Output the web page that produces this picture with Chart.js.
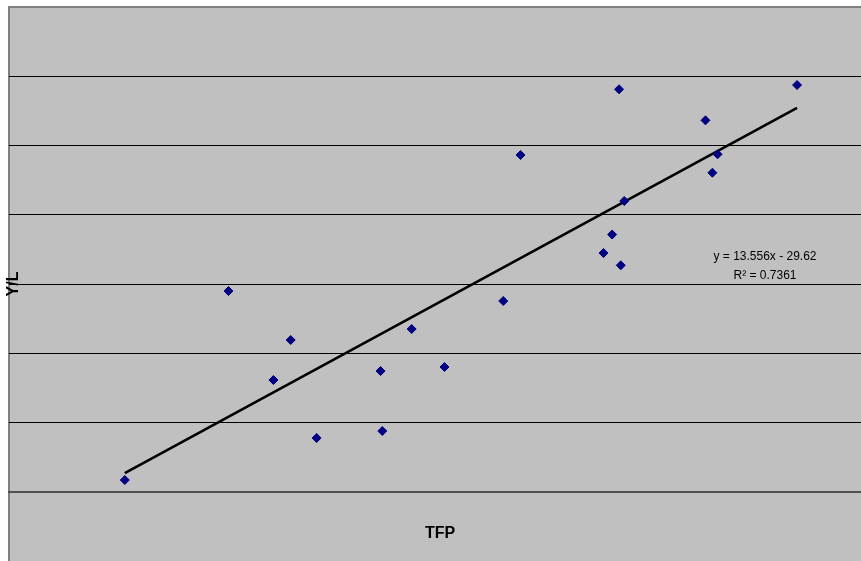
<!DOCTYPE html>
<html>
<head>
<meta charset="utf-8">
<script src="https://cdn.jsdelivr.net/npm/chart.js@4/dist/chart.umd.min.js"></script>
<style>
  body { margin: 0; background: #fff; }
  canvas { display: block; }
</style>
</head>
<body>
<canvas id="tfp-chart" width="861" height="561"></canvas>
<script>
// TFP (x) vs output per worker Y/L (y)
const tfp = [2.205, 2.265, 2.301, 2.291, 2.316, 2.353, 2.354, 2.371, 2.390, 2.424,
             2.434, 2.491, 2.494, 2.487, 2.482, 2.492, 2.541, 2.548, 2.545, 2.594]
const yl = [0.173, 2.901, 2.194, 1.616, 0.779, 1.746, 0.880, 2.352, 1.804, 2.757,
            4.864, 5.812, 4.200, 3.716, 3.449, 3.272, 5.364, 4.874, 4.608, 5.874]

// trendline as printed on the chart
const trendSlope = 13.556
const trendIntercept = -29.62
const trendLabel = ['y = 13.556x - 29.62', 'R² = 0.7361']

const xTitle = 'TFP'
const yTitle = 'Y/L'

const puntos = tfp.map((x, i) => ({ x: x, y: yl[i] }))
const xMin = Math.min(...tfp)
const xMax = Math.max(...tfp)
const tendencia = [xMin, xMax].map(x => ({ x: x, y: trendSlope * x + trendIntercept }))

const fondoPlugin = {
    id: 'fondo',
    beforeDraw: (chart) => {
        const { ctx, chartArea, width, height } = chart
        ctx.save()
        ctx.fillStyle = '#c0c0c0'
        ctx.fillRect(chartArea.left, chartArea.top, width - chartArea.left, height - chartArea.top)
        ctx.strokeStyle = '#808080'
        ctx.lineWidth = 2
        ctx.beginPath()
        ctx.moveTo(chartArea.left, height)
        ctx.lineTo(chartArea.left, chartArea.top)
        ctx.lineTo(width, chartArea.top)
        ctx.stroke()
        ctx.restore()
    },
    afterDraw: (chart) => {
        const { ctx, chartArea, width, height } = chart
        ctx.save()
        ctx.fillStyle = '#000'
        ctx.font = 'bold 16px "Liberation Sans", Arial, sans-serif'
        ctx.textAlign = 'center'
        ctx.textBaseline = 'middle'
        // x title
        ctx.fillText(xTitle, (chartArea.left + width) / 2 + 5, height - 27)
        // y title
        ctx.translate(chartArea.left + 5, (chartArea.top + height) / 2)
        ctx.rotate(-Math.PI / 2)
        ctx.fillText(yTitle, 0, 0)
        ctx.restore()

        // trendline equation
        ctx.save()
        ctx.fillStyle = '#000'
        ctx.font = '12px "Liberation Sans", Arial, sans-serif'
        ctx.textAlign = 'center'
        ctx.textBaseline = 'middle'
        const cx = width - 96
        ctx.fillText(trendLabel[0], cx, chartArea.top + 250)
        ctx.fillText(trendLabel[1], cx, chartArea.top + 269)
        ctx.restore()
    }
}

new Chart(document.querySelector('#tfp-chart'), {
    type: 'scatter',
    data: {
        datasets: [{
            label: 'Y/L',
            data: puntos,
            pointStyle: 'rectRot',
            pointRadius: 4.5,
            backgroundColor: '#000080',
            borderColor: '#000080',
            borderWidth: 1,
            order: 1
        }, {
            type: 'line',
            label: 'Tendencia',
            data: tendencia,
            borderColor: '#000',
            borderWidth: 2.6,
            pointRadius: 0,
            fill: false,
            order: 2
        }]
    },
    plugins: [fondoPlugin],
    options: {
        responsive: false,
        animation: false,
        layout: { autoPadding: false, padding: { left: 9, top: 7, right: 0, bottom: 69 } },
        plugins: {
            legend: { display: false },
            tooltip: { enabled: false }
        },
        scales: {
            x: {
                type: 'linear',
                min: 2.138,
                max: 2.631,
                ticks: { display: false },
                grid: { display: false, drawTicks: false },
                border: { display: true, color: '#505050', width: 2 }
            },
            y: {
                min: 0,
                max: 7,
                ticks: { display: false, stepSize: 1 },
                grid: {
                    drawTicks: false,
                    lineWidth: 1,
                    color: (c) => (c.tick && c.tick.value === 7) ? '#808080' : (c.tick && c.tick.value === 0 ? '#505050' : '#000')
                },
                border: { display: false }
            }
        }
    }
})
</script>
</body>
</html>
